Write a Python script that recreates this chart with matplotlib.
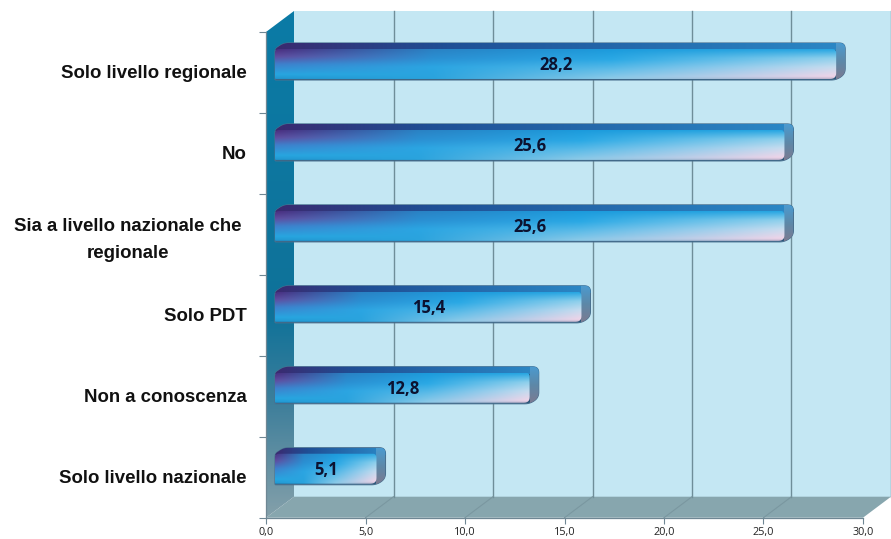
import numpy as np
import matplotlib
matplotlib.use("Agg")
import matplotlib.pyplot as plt
from matplotlib.patches import Polygon
from matplotlib.transforms import ScaledTranslation

categories = ["Solo livello regionale", "No", "Sia a livello nazionale che\nregionale",
              "Solo PDT", "Non a conoscenza", "Solo livello nazionale"]
values = [28.2, 25.6, 25.6, 15.4, 12.8, 5.1]
value_labels = ["28,2", "25,6", "25,6", "15,4", "12,8", "5,1"]
x_ticks = [0, 5, 10, 15, 20, 25, 30]
x_tick_labels = ["0,0", "5,0", "10,0", "15,0", "20,0", "25,0", "30,0"]

W, H = 891, 539
fig = plt.figure(figsize=(W / 100, H / 100), dpi=100, facecolor="white")
L, R, T, B = 266, 863, 32, 517.7
ax = fig.add_axes([L / W, (H - B) / H, (R - L) / W, (B - T) / H])
ax.set_xlim(0, 30)
ax.set_ylim(5.5, -0.5)
ax.set_facecolor("none")
PX = 30 / (R - L)
PY = 6 / (B - T)
DX, DY = 28 * PX, 21 * PY
top, bot = -0.5, 5.5


def hex2(c):
    return np.array(matplotlib.colors.to_rgb(c))


def grad(stops, n=64):
    pos = [s[0] for s in stops]
    cols = np.array([hex2(s[1]) for s in stops])
    t = np.linspace(0, 1, n)
    return np.stack([np.interp(t, pos, cols[:, i]) for i in range(3)], axis=1)


def rounded(pts, radii):
    """Polygon outline with rounded corners; radii are given in pixels."""
    P = np.array(pts) / np.array([PX, PY])
    out = []
    m = len(P)
    for i in range(m):
        p, a, c = P[i], P[i - 1], P[(i + 1) % m]
        r = radii[i]
        u = (a - p) / np.linalg.norm(a - p)
        v = (c - p) / np.linalg.norm(c - p)
        r = min(r, np.linalg.norm(a - p) / 2, np.linalg.norm(c - p) / 2)
        s = p + u * r
        e = p + v * r
        for t in np.linspace(0, 1, 8):
            out.append((1 - t) ** 2 * s + 2 * t * (1 - t) * p + t ** 2 * e)
    return np.array(out) * np.array([PX, PY])


def clip_to(image, patch):
    image.set_clip_path(patch)
    image.set_clip_box(fig.bbox)


# back wall
ax.add_patch(Polygon([(DX, top - DY), (30 + DX, top - DY), (30 + DX, bot - DY), (DX, bot - DY)],
                     fc="#c4e7f3", ec="none", clip_on=False, zorder=1))
# floor
ax.add_patch(Polygon([(0, bot), (30, bot), (30 + DX, bot - DY), (DX, bot - DY)],
                     fc="#87a6ae", ec="none", clip_on=False, zorder=1))
# left wall with vertical gradient
wall = Polygon([(0, top), (DX, top - DY), (DX, bot - DY), (0, bot)], fc="none", ec="none",
               clip_on=False, zorder=2)
ax.add_patch(wall)
wg = grad([(0, "#0b7ba6"), (0.6, "#0f7299"), (0.78, "#3f7f9b"), (1, "#84a0aa")], 128)[:, None, :]
im = ax.imshow(wg, extent=(0, DX, bot, top - DY), aspect="auto", zorder=2, interpolation="bilinear")
clip_to(im, wall)

# gridlines on back wall and floor
for t in x_ticks[1:]:
    ax.plot([t + DX, t + DX], [top - DY, bot - DY], color="#6f8e99", lw=1.0, zorder=3, clip_on=False)
    if t < 30:
        ax.plot([t, t + DX], [bot, bot - DY], color="#7a97a0", lw=0.8, zorder=3, clip_on=False)

# bars
y = np.arange(len(values)) - 8 * PY
h = 31 * PY
bars = ax.barh(y, values, height=h, left=9 * PX, color="none", zorder=6)
BDX, BDY = 9 * PX, 6 * PY
n = 64
col_0 = grad([(0, "#4a2f80"), (0.25, "#5f4ea0"), (0.5, "#3f7fcb"), (0.85, "#27a6e0"), (1, "#2196cf")], n)
col_3 = grad([(0, "#2a82c4"), (0.3, "#2b8fd2"), (0.6, "#2ba5e2"), (1, "#2aa3dd")], n)
col_6 = grad([(0, "#1c9bdc"), (0.35, "#2ba9e5"), (0.7, "#62bde8"), (1, "#8fcbe8")], n)
col_1 = grad([(0, "#27a6e2"), (0.3, "#8fd0ec"), (0.6, "#c6dcef"), (0.92, "#f0d4e8"), (1, "#c4b4cc")], n)
us = np.linspace(0, 1, 200)
knots = [0, 0.28, 0.6, 1]
stack = np.stack([col_0, col_3, col_6, col_1])
img = np.stack([[np.interp(us, knots, stack[:, r, c]) for c in range(3)] for r in range(n)])
img = np.transpose(img, (0, 2, 1))

top_img = grad([(0, "#3a2a70"), (0.3, "#1f4f95"), (1, "#2b88c6")], 128)[None, :, :]
side_img = grad([(0, "#4b9bd0"), (0.5, "#5d88a8"), (1, "#7d7a90")], 64)[:, None, :]

for b, lab in zip(bars, value_labels):
    x0, x1 = b.get_x(), b.get_x() + b.get_width()
    y0, y1 = b.get_y(), b.get_y() + b.get_height()
    sil = rounded([(x0, y0), (x0 + BDX, y0 - BDY), (x1 + BDX, y0 - BDY), (x1 + BDX, y1 - BDY),
                   (x1, y1), (x0, y1)], [3, 5, 6, 6, 5, 1])
    sp = Polygon(sil, fc="#2a5578", ec="#4a7190", lw=0.8, zorder=4.5)
    ax.add_patch(sp)
    ti = ax.imshow(top_img, extent=(x0, x1 + BDX, y0 + 1 * PY, y0 - BDY), aspect="auto", zorder=5,
                   interpolation="bilinear")
    clip_to(ti, sp)
    si = ax.imshow(side_img, extent=(x1, x1 + BDX, y1, y0 - BDY), aspect="auto", zorder=5.2,
                   interpolation="bilinear")
    clip_to(si, sp)
    fr = Polygon(rounded([(x0, y0), (x1, y0), (x1, y1 - 1 * PY), (x0, y1 - 1 * PY)], [4, 4, 6, 1]),
                 fc="none", ec="none", zorder=6)
    ax.add_patch(fr)
    fi = ax.imshow(img, extent=(x0, x1, y1 - 1 * PY, y0), aspect="auto", zorder=6,
                   interpolation="bilinear")
    clip_to(fi, fr)
    ax.text((x0 + x1) / 2, b.get_y() + h / 2 + 1 * PY, lab, ha="center", va="center", fontsize=12,
            fontweight="bold", family="Open Sans", color="#0c1230", zorder=8)

ax.set_xlim(0, 30)
ax.set_ylim(5.5, -0.5)

# axes, ticks
for s in ["top", "right"]:
    ax.spines[s].set_visible(False)
for s in ["left", "bottom"]:
    ax.spines[s].set_color("#6f8794")
    ax.spines[s].set_linewidth(0.9)
    ax.spines[s].set_zorder(4)
ax.set_xticks(x_ticks)
ax.set_xticklabels(x_tick_labels, fontsize=7.8, family="Open Sans", color="#222222")
ax.tick_params(axis="x", length=4, width=0.8, color="#6f8794", pad=3)
ax.set_yticks(np.arange(-0.5, 6, 1), minor=False)
ax.set_yticklabels([""] * 7)
ax.tick_params(axis="y", which="major", length=5, width=0.8, color="#6f8794")
ax.set_yticks(np.arange(len(categories)), minor=True)
ax.set_yticklabels(categories, minor=True, fontsize=13.4, family="Liberation Sans", fontweight="bold",
                   color="#111111", multialignment="center", linespacing=1.75)
ax.tick_params(axis="y", which="minor", length=0, pad=14)
for lab in ax.get_yticklabels(minor=True):
    lab.set_transform(lab.get_transform() + ScaledTranslation(0, 1 / 100, fig.dpi_scale_trans))
    if "\n" in lab.get_text():
        lab.set_transform(lab.get_transform() + ScaledTranslation(-5 / 100, 0, fig.dpi_scale_trans))

fig.savefig("out.png", dpi=100, facecolor="white")
